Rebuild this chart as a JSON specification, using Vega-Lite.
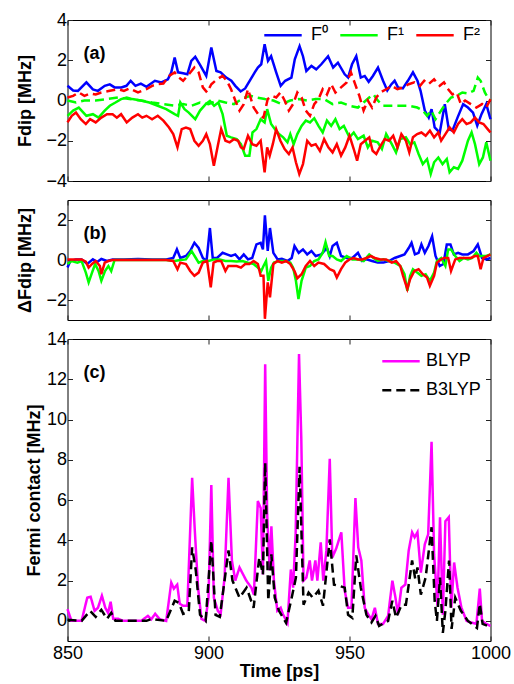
{
"$schema": "https://vega.github.io/schema/vega-lite/v6.json",
"padding": {"left": 15.5, "top": 10, "right": 0, "bottom": 0},
"spacing": 19,
"bounds": "flush",
"resolve": {"scale": {"color": "independent", "strokeDash": "independent"}, "legend": {"color": "independent", "strokeDash": "independent"}},
"config": {
  "font": "Liberation Sans",
  "view": {"stroke": "black", "strokeWidth": 1},
  "axis": {"grid": false, "domain": false, "tickSize": -5, "tickColor": "#222", "tickWidth": 1, "labelFontSize": 18, "labelColor": "black", "labelPadding": 6, "titleFontSize": 18, "titleFontWeight": "bold", "titleColor": "black", "minExtent": 0, "format": "d", "labelFlush": false, "labelOverlap": false},
  "legend": {"title": null, "symbolType": "stroke", "symbolStrokeWidth": 2.5, "symbolSize": 1400, "labelFontSize": 18, "labelColor": "black", "padding": 0, "labelOffset": 6},
  "text": {"fontSize": 18, "fontWeight": "bold", "color": "black", "align": "left", "baseline": "alphabetic", "dx": 16, "dy": 39},
  "line": {"strokeWidth": 2.5}
},
"datasets": {
"aS": [
{"t":850,"v":0.73,"s":"F⁰"},{"t":852,"v":0.5,"s":"F⁰"},{"t":853.7,"v":0.48,"s":"F⁰"},{"t":856.7,"v":0.9,"s":"F⁰"},{"t":859,"v":0.55,"s":"F⁰"},{"t":860.8,"v":0.48,"s":"F⁰"},{"t":863.2,"v":0.73,"s":"F⁰"},{"t":865,"v":0.8,"s":"F⁰"},{"t":866.7,"v":0.65,"s":"F⁰"},{"t":869.1,"v":0.65,"s":"F⁰"},{"t":870.9,"v":0.73,"s":"F⁰"},{"t":872.4,"v":0.98,"s":"F⁰"},{"t":874.1,"v":0.73,"s":"F⁰"},{"t":876,"v":0.84,"s":"F⁰"},{"t":878,"v":0.68,"s":"F⁰"},{"t":881,"v":0.98,"s":"F⁰"},{"t":883.3,"v":0.9,"s":"F⁰"},{"t":885.6,"v":1.05,"s":"F⁰"},{"t":886.8,"v":1.4,"s":"F⁰"},{"t":888,"v":2.13,"s":"F⁰"},{"t":889.2,"v":1.4,"s":"F⁰"},{"t":891,"v":1.35,"s":"F⁰"},{"t":892.5,"v":1.3,"s":"F⁰"},{"t":893.9,"v":1.97,"s":"F⁰"},{"t":895.3,"v":2.17,"s":"F⁰"},{"t":896.9,"v":1.8,"s":"F⁰"},{"t":899.2,"v":1.22,"s":"F⁰"},{"t":901,"v":2.63,"s":"F⁰"},{"t":902.8,"v":1.47,"s":"F⁰"},{"t":904.3,"v":1.4,"s":"F⁰"},{"t":906.3,"v":1.14,"s":"F⁰"},{"t":908.1,"v":0.98,"s":"F⁰"},{"t":909.5,"v":0.73,"s":"F⁰"},{"t":911.4,"v":0.45,"s":"F⁰"},{"t":913,"v":0.6,"s":"F⁰"},{"t":914.6,"v":0.98,"s":"F⁰"},{"t":916.4,"v":1.4,"s":"F⁰"},{"t":917.5,"v":1.64,"s":"F⁰"},{"t":918.7,"v":1.8,"s":"F⁰"},{"t":919.9,"v":2.8,"s":"F⁰"},{"t":921.1,"v":1.97,"s":"F⁰"},{"t":922.2,"v":2.2,"s":"F⁰"},{"t":924,"v":1.4,"s":"F⁰"},{"t":925.6,"v":0.73,"s":"F⁰"},{"t":927.2,"v":0.98,"s":"F⁰"},{"t":929.4,"v":1.14,"s":"F⁰"},{"t":930.6,"v":2.05,"s":"F⁰"},{"t":932.3,"v":2.7,"s":"F⁰"},{"t":933.5,"v":2.2,"s":"F⁰"},{"t":934.7,"v":1.47,"s":"F⁰"},{"t":936.5,"v":1.72,"s":"F⁰"},{"t":938.2,"v":1.55,"s":"F⁰"},{"t":940,"v":1.8,"s":"F⁰"},{"t":942.4,"v":2.2,"s":"F⁰"},{"t":944.2,"v":1.64,"s":"F⁰"},{"t":945.9,"v":1.88,"s":"F⁰"},{"t":948.3,"v":1.3,"s":"F⁰"},{"t":949.5,"v":1.14,"s":"F⁰"},{"t":950.9,"v":1.8,"s":"F⁰"},{"t":952.4,"v":2.2,"s":"F⁰"},{"t":954,"v":1.14,"s":"F⁰"},{"t":955.4,"v":1.22,"s":"F⁰"},{"t":956.8,"v":0.93,"s":"F⁰"},{"t":958.3,"v":1.22,"s":"F⁰"},{"t":960.1,"v":1.64,"s":"F⁰"},{"t":961.9,"v":0.98,"s":"F⁰"},{"t":963.4,"v":0.5,"s":"F⁰"},{"t":964.8,"v":0.8,"s":"F⁰"},{"t":966,"v":0.98,"s":"F⁰"},{"t":967.2,"v":0.65,"s":"F⁰"},{"t":968.9,"v":0.6,"s":"F⁰"},{"t":970.7,"v":0.98,"s":"F⁰"},{"t":972.5,"v":1.4,"s":"F⁰"},{"t":974.1,"v":0.98,"s":"F⁰"},{"t":975.2,"v":0.48,"s":"F⁰"},{"t":976.7,"v":-0.5,"s":"F⁰"},{"t":978.1,"v":-0.85,"s":"F⁰"},{"t":979.1,"v":-0.43,"s":"F⁰"},{"t":980.2,"v":-1.34,"s":"F⁰"},{"t":982,"v":-1.6,"s":"F⁰"},{"t":983.8,"v":-0.18,"s":"F⁰"},{"t":985.2,"v":-1.42,"s":"F⁰"},{"t":986.5,"v":-1.5,"s":"F⁰"},{"t":988.3,"v":-0.85,"s":"F⁰"},{"t":990.3,"v":-0.18,"s":"F⁰"},{"t":992,"v":-0.35,"s":"F⁰"},{"t":993.8,"v":-0.6,"s":"F⁰"},{"t":995.3,"v":-1.25,"s":"F⁰"},{"t":996.8,"v":-0.68,"s":"F⁰"},{"t":998.5,"v":-0.18,"s":"F⁰"},{"t":1000,"v":-0.93,"s":"F⁰"},
{"t":850,"v":-0.76,"s":"F¹"},{"t":852,"v":-0.5,"s":"F¹"},{"t":854,"v":-0.35,"s":"F¹"},{"t":856.7,"v":-0.76,"s":"F¹"},{"t":859,"v":-0.68,"s":"F¹"},{"t":861,"v":-0.85,"s":"F¹"},{"t":863.2,"v":-0.5,"s":"F¹"},{"t":865,"v":-0.26,"s":"F¹"},{"t":867,"v":-0.1,"s":"F¹"},{"t":869,"v":0.07,"s":"F¹"},{"t":871,"v":0.15,"s":"F¹"},{"t":873,"v":0.07,"s":"F¹"},{"t":876,"v":0,"s":"F¹"},{"t":879,"v":-0.1,"s":"F¹"},{"t":882,"v":-0.26,"s":"F¹"},{"t":885,"v":-0.43,"s":"F¹"},{"t":888,"v":-0.68,"s":"F¹"},{"t":889.2,"v":-0.76,"s":"F¹"},{"t":890,"v":-0.1,"s":"F¹"},{"t":891.5,"v":-0.43,"s":"F¹"},{"t":893,"v":-0.6,"s":"F¹"},{"t":895.3,"v":-0.93,"s":"F¹"},{"t":897,"v":-0.5,"s":"F¹"},{"t":899,"v":-0.18,"s":"F¹"},{"t":900.5,"v":-0.02,"s":"F¹"},{"t":902,"v":-0.26,"s":"F¹"},{"t":903.5,"v":-0.1,"s":"F¹"},{"t":905,"v":-0.68,"s":"F¹"},{"t":906.5,"v":-1.75,"s":"F¹"},{"t":908,"v":-1.83,"s":"F¹"},{"t":910,"v":-1.92,"s":"F¹"},{"t":911.5,"v":-2.17,"s":"F¹"},{"t":913,"v":-2.74,"s":"F¹"},{"t":914.5,"v":-2.74,"s":"F¹"},{"t":915.6,"v":-1.59,"s":"F¹"},{"t":917,"v":-1.42,"s":"F¹"},{"t":918.5,"v":-0.93,"s":"F¹"},{"t":919.9,"v":-1.09,"s":"F¹"},{"t":920.8,"v":-0.43,"s":"F¹"},{"t":922.2,"v":-1.17,"s":"F¹"},{"t":923.5,"v":-1.42,"s":"F¹"},{"t":925,"v":-1.67,"s":"F¹"},{"t":926.5,"v":-1.83,"s":"F¹"},{"t":928,"v":-2.08,"s":"F¹"},{"t":929,"v":-1.67,"s":"F¹"},{"t":930.2,"v":-2.17,"s":"F¹"},{"t":931.5,"v":-1.67,"s":"F¹"},{"t":933,"v":-1.26,"s":"F¹"},{"t":934.5,"v":-1.0,"s":"F¹"},{"t":936,"v":-1.09,"s":"F¹"},{"t":937.5,"v":-0.88,"s":"F¹"},{"t":939,"v":-1.26,"s":"F¹"},{"t":940.5,"v":-1.59,"s":"F¹"},{"t":942,"v":-1.0,"s":"F¹"},{"t":943.5,"v":-1.26,"s":"F¹"},{"t":945,"v":-0.93,"s":"F¹"},{"t":946.5,"v":-1.42,"s":"F¹"},{"t":948,"v":-1.26,"s":"F¹"},{"t":950,"v":-1.83,"s":"F¹"},{"t":951.5,"v":-1.59,"s":"F¹"},{"t":953,"v":-1.92,"s":"F¹"},{"t":955,"v":-1.75,"s":"F¹"},{"t":956.5,"v":-2.33,"s":"F¹"},{"t":958,"v":-2.0,"s":"F¹"},{"t":960,"v":-2.08,"s":"F¹"},{"t":961.5,"v":-2.41,"s":"F¹"},{"t":963,"v":-1.67,"s":"F¹"},{"t":965,"v":-2.17,"s":"F¹"},{"t":966.5,"v":-2.58,"s":"F¹"},{"t":968,"v":-1.92,"s":"F¹"},{"t":970,"v":-1.83,"s":"F¹"},{"t":971.5,"v":-2.17,"s":"F¹"},{"t":973,"v":-2.08,"s":"F¹"},{"t":974.5,"v":-2.66,"s":"F¹"},{"t":976,"v":-3.16,"s":"F¹"},{"t":977.5,"v":-2.91,"s":"F¹"},{"t":978.8,"v":-3.65,"s":"F¹"},{"t":980,"v":-3.07,"s":"F¹"},{"t":981.5,"v":-2.83,"s":"F¹"},{"t":983,"v":-3.16,"s":"F¹"},{"t":984.5,"v":-2.91,"s":"F¹"},{"t":985.5,"v":-3.57,"s":"F¹"},{"t":987,"v":-3.32,"s":"F¹"},{"t":988.5,"v":-3.4,"s":"F¹"},{"t":990,"v":-2.99,"s":"F¹"},{"t":992,"v":-2.0,"s":"F¹"},{"t":993.3,"v":-1.59,"s":"F¹"},{"t":994.5,"v":-2.17,"s":"F¹"},{"t":996,"v":-3.16,"s":"F¹"},{"t":997.3,"v":-2.83,"s":"F¹"},{"t":998.5,"v":-2.08,"s":"F¹"},{"t":1000,"v":-2.99,"s":"F¹"},
{"t":850,"v":-1.09,"s":"F²"},{"t":851.5,"v":-0.76,"s":"F²"},{"t":853,"v":-0.6,"s":"F²"},{"t":854.7,"v":-0.93,"s":"F²"},{"t":856.5,"v":-1.17,"s":"F²"},{"t":858,"v":-0.93,"s":"F²"},{"t":860,"v":-1.09,"s":"F²"},{"t":862,"v":-0.85,"s":"F²"},{"t":864,"v":-0.68,"s":"F²"},{"t":866,"v":-0.68,"s":"F²"},{"t":867.5,"v":-0.85,"s":"F²"},{"t":869,"v":-0.68,"s":"F²"},{"t":871,"v":-1.09,"s":"F²"},{"t":873,"v":-0.85,"s":"F²"},{"t":875,"v":-0.68,"s":"F²"},{"t":876.5,"v":-0.85,"s":"F²"},{"t":878,"v":-0.76,"s":"F²"},{"t":880,"v":-0.93,"s":"F²"},{"t":882,"v":-0.76,"s":"F²"},{"t":884,"v":-1.0,"s":"F²"},{"t":886,"v":-1.34,"s":"F²"},{"t":887.5,"v":-1.67,"s":"F²"},{"t":889,"v":-2.33,"s":"F²"},{"t":890.5,"v":-1.42,"s":"F²"},{"t":892,"v":-1.34,"s":"F²"},{"t":893.5,"v":-1.42,"s":"F²"},{"t":895,"v":-2.0,"s":"F²"},{"t":896.5,"v":-2.25,"s":"F²"},{"t":898,"v":-2.0,"s":"F²"},{"t":899.2,"v":-1.67,"s":"F²"},{"t":900.5,"v":-2.17,"s":"F²"},{"t":901.9,"v":-3.24,"s":"F²"},{"t":903.3,"v":-2.25,"s":"F²"},{"t":904.5,"v":-1.42,"s":"F²"},{"t":906,"v":-2.0,"s":"F²"},{"t":907.5,"v":-2.08,"s":"F²"},{"t":909,"v":-1.92,"s":"F²"},{"t":910.5,"v":-2.0,"s":"F²"},{"t":911.5,"v":-2.33,"s":"F²"},{"t":912.5,"v":-2.41,"s":"F²"},{"t":914,"v":-1.75,"s":"F²"},{"t":915.5,"v":-2.17,"s":"F²"},{"t":917,"v":-2.25,"s":"F²"},{"t":918.5,"v":-2.0,"s":"F²"},{"t":919.9,"v":-3.57,"s":"F²"},{"t":920.8,"v":-2.33,"s":"F²"},{"t":921.7,"v":-2.74,"s":"F²"},{"t":922.8,"v":-2.17,"s":"F²"},{"t":924,"v":-1.42,"s":"F²"},{"t":925.5,"v":-2.0,"s":"F²"},{"t":927,"v":-2.41,"s":"F²"},{"t":928.5,"v":-2.66,"s":"F²"},{"t":929.8,"v":-2.33,"s":"F²"},{"t":931,"v":-3.07,"s":"F²"},{"t":932.2,"v":-3.65,"s":"F²"},{"t":933.5,"v":-3.16,"s":"F²"},{"t":935,"v":-2.0,"s":"F²"},{"t":936.5,"v":-2.25,"s":"F²"},{"t":938,"v":-2.17,"s":"F²"},{"t":939.5,"v":-2.5,"s":"F²"},{"t":941,"v":-1.92,"s":"F²"},{"t":942.5,"v":-2.33,"s":"F²"},{"t":944,"v":-2.58,"s":"F²"},{"t":945.5,"v":-2.17,"s":"F²"},{"t":947,"v":-2.74,"s":"F²"},{"t":948.5,"v":-2.33,"s":"F²"},{"t":950,"v":-1.75,"s":"F²"},{"t":951.5,"v":-2.41,"s":"F²"},{"t":952.7,"v":-2.99,"s":"F²"},{"t":954,"v":-2.17,"s":"F²"},{"t":955.5,"v":-2.0,"s":"F²"},{"t":957,"v":-1.83,"s":"F²"},{"t":958.2,"v":-2.5,"s":"F²"},{"t":959.5,"v":-2.66,"s":"F²"},{"t":961,"v":-2.25,"s":"F²"},{"t":962.5,"v":-1.92,"s":"F²"},{"t":964,"v":-2.0,"s":"F²"},{"t":965.5,"v":-1.75,"s":"F²"},{"t":967,"v":-2.33,"s":"F²"},{"t":968.4,"v":-1.67,"s":"F²"},{"t":970,"v":-2.0,"s":"F²"},{"t":971.2,"v":-2.58,"s":"F²"},{"t":972.5,"v":-1.83,"s":"F²"},{"t":974,"v":-1.67,"s":"F²"},{"t":975.5,"v":-1.59,"s":"F²"},{"t":977,"v":-1.75,"s":"F²"},{"t":978.5,"v":-1.5,"s":"F²"},{"t":980,"v":-1.83,"s":"F²"},{"t":981.5,"v":-1.59,"s":"F²"},{"t":982.5,"v":-2.0,"s":"F²"},{"t":984,"v":-1.67,"s":"F²"},{"t":985.5,"v":-1.34,"s":"F²"},{"t":987,"v":-1.59,"s":"F²"},{"t":988.5,"v":-1.17,"s":"F²"},{"t":990,"v":-0.93,"s":"F²"},{"t":991.5,"v":-1.17,"s":"F²"},{"t":993,"v":-1.09,"s":"F²"},{"t":994.5,"v":-0.85,"s":"F²"},{"t":996,"v":-1.09,"s":"F²"},{"t":997.5,"v":-1.17,"s":"F²"},{"t":999,"v":-1.42,"s":"F²"},{"t":1000,"v":-1.59,"s":"F²"}
],
"aD": [
{"t":850,"v":0,"s":"F¹"},{"t":853,"v":-0.1,"s":"F¹"},{"t":856,"v":0,"s":"F¹"},{"t":860,"v":0,"s":"F¹"},{"t":864,"v":0.07,"s":"F¹"},{"t":868,"v":0.15,"s":"F¹"},{"t":872,"v":0.07,"s":"F¹"},{"t":876,"v":0,"s":"F¹"},{"t":880,"v":-0.1,"s":"F¹"},{"t":884,"v":-0.18,"s":"F¹"},{"t":888,"v":-0.26,"s":"F¹"},{"t":891,"v":-0.18,"s":"F¹"},{"t":894,"v":-0.26,"s":"F¹"},{"t":897,"v":-0.1,"s":"F¹"},{"t":900,"v":-0.18,"s":"F¹"},{"t":903,"v":0,"s":"F¹"},{"t":906,"v":-0.1,"s":"F¹"},{"t":909,"v":-0.18,"s":"F¹"},{"t":911,"v":0,"s":"F¹"},{"t":913,"v":0.15,"s":"F¹"},{"t":915,"v":0.23,"s":"F¹"},{"t":917,"v":0.15,"s":"F¹"},{"t":920,"v":0.07,"s":"F¹"},{"t":923,"v":0,"s":"F¹"},{"t":926,"v":-0.18,"s":"F¹"},{"t":929,"v":0,"s":"F¹"},{"t":932,"v":0.07,"s":"F¹"},{"t":935,"v":0,"s":"F¹"},{"t":938,"v":0.07,"s":"F¹"},{"t":941,"v":0.07,"s":"F¹"},{"t":944,"v":-0.18,"s":"F¹"},{"t":947,"v":-0.1,"s":"F¹"},{"t":950,"v":-0.26,"s":"F¹"},{"t":953,"v":-0.35,"s":"F¹"},{"t":955,"v":-0.1,"s":"F¹"},{"t":957,"v":0.15,"s":"F¹"},{"t":958.5,"v":0.3,"s":"F¹"},{"t":960,"v":0,"s":"F¹"},{"t":962,"v":-0.26,"s":"F¹"},{"t":965,"v":-0.26,"s":"F¹"},{"t":968,"v":-0.26,"s":"F¹"},{"t":971,"v":-0.26,"s":"F¹"},{"t":974,"v":-0.35,"s":"F¹"},{"t":976,"v":-0.5,"s":"F¹"},{"t":977.5,"v":-0.76,"s":"F¹"},{"t":979,"v":-0.5,"s":"F¹"},{"t":980.5,"v":-0.93,"s":"F¹"},{"t":982,"v":-0.6,"s":"F¹"},{"t":984,"v":-0.18,"s":"F¹"},{"t":986,"v":0.15,"s":"F¹"},{"t":988,"v":0.23,"s":"F¹"},{"t":990,"v":0.4,"s":"F¹"},{"t":992,"v":0.35,"s":"F¹"},{"t":994,"v":0.48,"s":"F¹"},{"t":995.5,"v":1.14,"s":"F¹"},{"t":996.5,"v":0.98,"s":"F¹"},{"t":998,"v":0.4,"s":"F¹"},{"t":999,"v":0.15,"s":"F¹"},{"t":1000,"v":0,"s":"F¹"},
{"t":850,"v":0.15,"s":"F²"},{"t":852,"v":0.23,"s":"F²"},{"t":854,"v":0.4,"s":"F²"},{"t":856,"v":0.23,"s":"F²"},{"t":858,"v":0.35,"s":"F²"},{"t":860,"v":0.3,"s":"F²"},{"t":862,"v":0.4,"s":"F²"},{"t":865,"v":0.48,"s":"F²"},{"t":868,"v":0.56,"s":"F²"},{"t":870,"v":0.48,"s":"F²"},{"t":872,"v":0.6,"s":"F²"},{"t":875,"v":0.4,"s":"F²"},{"t":878,"v":0.56,"s":"F²"},{"t":880,"v":0.73,"s":"F²"},{"t":882,"v":0.81,"s":"F²"},{"t":884,"v":0.84,"s":"F²"},{"t":886,"v":1.22,"s":"F²"},{"t":888,"v":1.4,"s":"F²"},{"t":889.5,"v":1.14,"s":"F²"},{"t":891,"v":0.98,"s":"F²"},{"t":893,"v":1.3,"s":"F²"},{"t":895,"v":1.64,"s":"F²"},{"t":896.5,"v":1.4,"s":"F²"},{"t":898,"v":0.65,"s":"F²"},{"t":899.5,"v":0.4,"s":"F²"},{"t":901,"v":0.81,"s":"F²"},{"t":903,"v":1.05,"s":"F²"},{"t":905,"v":1.22,"s":"F²"},{"t":906.5,"v":0.98,"s":"F²"},{"t":908,"v":0.56,"s":"F²"},{"t":909.5,"v":0,"s":"F²"},{"t":911,"v":-0.5,"s":"F²"},{"t":912.5,"v":-0.18,"s":"F²"},{"t":914,"v":0.56,"s":"F²"},{"t":916,"v":-0.35,"s":"F²"},{"t":918,"v":-0.76,"s":"F²"},{"t":919.5,"v":-0.85,"s":"F²"},{"t":921,"v":0.07,"s":"F²"},{"t":922.5,"v":0.23,"s":"F²"},{"t":924,"v":0.15,"s":"F²"},{"t":925.5,"v":0.4,"s":"F²"},{"t":927,"v":0,"s":"F²"},{"t":928.5,"v":-0.5,"s":"F²"},{"t":930,"v":-0.18,"s":"F²"},{"t":931.5,"v":0.4,"s":"F²"},{"t":933,"v":0.15,"s":"F²"},{"t":934.5,"v":-0.5,"s":"F²"},{"t":936,"v":-0.76,"s":"F²"},{"t":937.5,"v":-0.18,"s":"F²"},{"t":939,"v":0.07,"s":"F²"},{"t":940.5,"v":0.56,"s":"F²"},{"t":942,"v":0.3,"s":"F²"},{"t":943.5,"v":0.81,"s":"F²"},{"t":945,"v":0.4,"s":"F²"},{"t":947,"v":0.65,"s":"F²"},{"t":949,"v":0.9,"s":"F²"},{"t":950.5,"v":1.4,"s":"F²"},{"t":952,"v":0.81,"s":"F²"},{"t":953.5,"v":0.23,"s":"F²"},{"t":955,"v":-0.5,"s":"F²"},{"t":956.5,"v":0,"s":"F²"},{"t":958,"v":-0.35,"s":"F²"},{"t":959.5,"v":0.15,"s":"F²"},{"t":961,"v":0.4,"s":"F²"},{"t":963,"v":0.56,"s":"F²"},{"t":965,"v":0.73,"s":"F²"},{"t":967,"v":0.56,"s":"F²"},{"t":969,"v":0.65,"s":"F²"},{"t":971,"v":0.81,"s":"F²"},{"t":973,"v":0.9,"s":"F²"},{"t":975,"v":0.73,"s":"F²"},{"t":976.5,"v":0.98,"s":"F²"},{"t":978,"v":0.81,"s":"F²"},{"t":980,"v":1.05,"s":"F²"},{"t":982,"v":0.73,"s":"F²"},{"t":983.5,"v":0.9,"s":"F²"},{"t":985,"v":0.56,"s":"F²"},{"t":986.5,"v":0.3,"s":"F²"},{"t":988,"v":0.4,"s":"F²"},{"t":989.5,"v":-0.18,"s":"F²"},{"t":991,"v":0,"s":"F²"},{"t":993,"v":-0.18,"s":"F²"},{"t":995,"v":-0.35,"s":"F²"},{"t":997,"v":-0.18,"s":"F²"},{"t":998.5,"v":-0.35,"s":"F²"},{"t":1000,"v":0.07,"s":"F²"}
],
"b0": [
{"t":850,"v":-0.38,"s":"F⁰"},{"t":851,"v":-0.05,"s":"F⁰"},{"t":853,"v":0.03,"s":"F⁰"},{"t":855,"v":0.03,"s":"F⁰"},{"t":857,"v":-0.2,"s":"F⁰"},{"t":859,"v":0.03,"s":"F⁰"},{"t":860.5,"v":-0.1,"s":"F⁰"},{"t":862,"v":0.05,"s":"F⁰"},{"t":864,"v":-0.05,"s":"F⁰"},{"t":866,"v":0.03,"s":"F⁰"},{"t":870,"v":0.03,"s":"F⁰"},{"t":875,"v":0.05,"s":"F⁰"},{"t":880,"v":0.03,"s":"F⁰"},{"t":885,"v":0.03,"s":"F⁰"},{"t":887.5,"v":0.1,"s":"F⁰"},{"t":888.8,"v":0.53,"s":"F⁰"},{"t":890,"v":0.1,"s":"F⁰"},{"t":892,"v":0.2,"s":"F⁰"},{"t":893.5,"v":0.45,"s":"F⁰"},{"t":895,"v":0.86,"s":"F⁰"},{"t":896.5,"v":0.6,"s":"F⁰"},{"t":898,"v":0.1,"s":"F⁰"},{"t":899.3,"v":-0.05,"s":"F⁰"},{"t":900.5,"v":1.6,"s":"F⁰"},{"t":901.5,"v":0.1,"s":"F⁰"},{"t":903,"v":0.1,"s":"F⁰"},{"t":905,"v":0.36,"s":"F⁰"},{"t":906.5,"v":0.28,"s":"F⁰"},{"t":908,"v":0.2,"s":"F⁰"},{"t":909.5,"v":0.28,"s":"F⁰"},{"t":911,"v":0.03,"s":"F⁰"},{"t":912.5,"v":0.28,"s":"F⁰"},{"t":914,"v":0.03,"s":"F⁰"},{"t":915.5,"v":0.1,"s":"F⁰"},{"t":917,"v":0.78,"s":"F⁰"},{"t":918.5,"v":0.86,"s":"F⁰"},{"t":919.3,"v":0.53,"s":"F⁰"},{"t":920,"v":2.23,"s":"F⁰"},{"t":921,"v":0.45,"s":"F⁰"},{"t":921.8,"v":1.6,"s":"F⁰"},{"t":923,"v":0.36,"s":"F⁰"},{"t":924.5,"v":0.03,"s":"F⁰"},{"t":926,"v":0.06,"s":"F⁰"},{"t":928,"v":-0.05,"s":"F⁰"},{"t":929.5,"v":0.1,"s":"F⁰"},{"t":930.5,"v":0.7,"s":"F⁰"},{"t":932,"v":0.36,"s":"F⁰"},{"t":933.5,"v":0.53,"s":"F⁰"},{"t":935,"v":0.28,"s":"F⁰"},{"t":936.5,"v":0.45,"s":"F⁰"},{"t":938,"v":0.2,"s":"F⁰"},{"t":940,"v":0.28,"s":"F⁰"},{"t":942,"v":0.6,"s":"F⁰"},{"t":943,"v":0.2,"s":"F⁰"},{"t":944,"v":0.7,"s":"F⁰"},{"t":945.5,"v":0.86,"s":"F⁰"},{"t":947,"v":0.2,"s":"F⁰"},{"t":949,"v":0.1,"s":"F⁰"},{"t":951,"v":0.1,"s":"F⁰"},{"t":953,"v":0.36,"s":"F⁰"},{"t":954.5,"v":-0.05,"s":"F⁰"},{"t":956,"v":0.03,"s":"F⁰"},{"t":958,"v":-0.05,"s":"F⁰"},{"t":960,"v":-0.13,"s":"F⁰"},{"t":962,"v":-0.13,"s":"F⁰"},{"t":964,"v":-0.05,"s":"F⁰"},{"t":966,"v":0.1,"s":"F⁰"},{"t":968,"v":0.2,"s":"F⁰"},{"t":969.5,"v":0.28,"s":"F⁰"},{"t":971,"v":0.6,"s":"F⁰"},{"t":972,"v":0.86,"s":"F⁰"},{"t":973.2,"v":0.28,"s":"F⁰"},{"t":974.5,"v":0.36,"s":"F⁰"},{"t":975.5,"v":0.78,"s":"F⁰"},{"t":976.7,"v":0.36,"s":"F⁰"},{"t":978,"v":0.7,"s":"F⁰"},{"t":979.3,"v":1.19,"s":"F⁰"},{"t":980.5,"v":0.2,"s":"F⁰"},{"t":982,"v":-0.3,"s":"F⁰"},{"t":983.3,"v":-0.2,"s":"F⁰"},{"t":984.5,"v":0.78,"s":"F⁰"},{"t":985.8,"v":0.78,"s":"F⁰"},{"t":987,"v":0.28,"s":"F⁰"},{"t":988.5,"v":0.36,"s":"F⁰"},{"t":990,"v":0.28,"s":"F⁰"},{"t":992,"v":0.28,"s":"F⁰"},{"t":994,"v":0.45,"s":"F⁰"},{"t":995.5,"v":0.78,"s":"F⁰"},{"t":997,"v":0.1,"s":"F⁰"},{"t":998.5,"v":0.03,"s":"F⁰"},{"t":1000,"v":0.1,"s":"F⁰"}
],
"b12": [
{"t":850,"v":-0.2,"s":"F¹"},{"t":851.5,"v":-0.05,"s":"F¹"},{"t":853.5,"v":-0.13,"s":"F¹"},{"t":855,"v":-0.05,"s":"F¹"},{"t":856.5,"v":-0.63,"s":"F¹"},{"t":857.5,"v":-1.12,"s":"F¹"},{"t":858.7,"v":-0.63,"s":"F¹"},{"t":859.8,"v":-0.2,"s":"F¹"},{"t":861,"v":-0.55,"s":"F¹"},{"t":862,"v":-1.04,"s":"F¹"},{"t":863.3,"v":-0.55,"s":"F¹"},{"t":864.5,"v":-0.3,"s":"F¹"},{"t":865.5,"v":-0.55,"s":"F¹"},{"t":866.7,"v":0,"s":"F¹"},{"t":875,"v":0,"s":"F¹"},{"t":885,"v":0,"s":"F¹"},{"t":888,"v":-0.05,"s":"F¹"},{"t":890,"v":0,"s":"F¹"},{"t":892,"v":0.03,"s":"F¹"},{"t":894,"v":0.45,"s":"F¹"},{"t":895.5,"v":0.1,"s":"F¹"},{"t":896.5,"v":-0.13,"s":"F¹"},{"t":898,"v":-0.05,"s":"F¹"},{"t":900,"v":-0.05,"s":"F¹"},{"t":902,"v":0.03,"s":"F¹"},{"t":904,"v":0.03,"s":"F¹"},{"t":906,"v":-0.05,"s":"F¹"},{"t":908,"v":-0.05,"s":"F¹"},{"t":910,"v":-0.08,"s":"F¹"},{"t":912,"v":-0.05,"s":"F¹"},{"t":914,"v":-0.13,"s":"F¹"},{"t":916,"v":-0.2,"s":"F¹"},{"t":917.5,"v":-0.38,"s":"F¹"},{"t":918.7,"v":-0.55,"s":"F¹"},{"t":919.5,"v":-0.3,"s":"F¹"},{"t":920.4,"v":-0.05,"s":"F¹"},{"t":921.2,"v":-1.04,"s":"F¹"},{"t":922.2,"v":-0.38,"s":"F¹"},{"t":923.2,"v":-0.13,"s":"F¹"},{"t":925,"v":-0.05,"s":"F¹"},{"t":927,"v":-0.05,"s":"F¹"},{"t":929,"v":-0.13,"s":"F¹"},{"t":930,"v":-0.38,"s":"F¹"},{"t":931,"v":-1.04,"s":"F¹"},{"t":931.9,"v":-1.95,"s":"F¹"},{"t":933,"v":-1.04,"s":"F¹"},{"t":934.5,"v":-0.38,"s":"F¹"},{"t":936,"v":-0.3,"s":"F¹"},{"t":937.5,"v":-0.05,"s":"F¹"},{"t":939,"v":0.03,"s":"F¹"},{"t":940.5,"v":0.36,"s":"F¹"},{"t":941.5,"v":0.89,"s":"F¹"},{"t":942.8,"v":0.2,"s":"F¹"},{"t":944,"v":0.2,"s":"F¹"},{"t":945.5,"v":0.03,"s":"F¹"},{"t":947,"v":-0.05,"s":"F¹"},{"t":949,"v":0.2,"s":"F¹"},{"t":951,"v":0.03,"s":"F¹"},{"t":953,"v":0.03,"s":"F¹"},{"t":955,"v":-0.05,"s":"F¹"},{"t":957,"v":0.28,"s":"F¹"},{"t":958.5,"v":0.1,"s":"F¹"},{"t":960,"v":-0.05,"s":"F¹"},{"t":962,"v":0.03,"s":"F¹"},{"t":964,"v":-0.05,"s":"F¹"},{"t":966,"v":-0.13,"s":"F¹"},{"t":968,"v":-0.3,"s":"F¹"},{"t":969.5,"v":-0.71,"s":"F¹"},{"t":970.5,"v":-1.54,"s":"F¹"},{"t":971.5,"v":-0.79,"s":"F¹"},{"t":972.5,"v":-0.46,"s":"F¹"},{"t":974,"v":-0.63,"s":"F¹"},{"t":975.5,"v":-0.79,"s":"F¹"},{"t":977,"v":-0.71,"s":"F¹"},{"t":978.5,"v":-1.04,"s":"F¹"},{"t":980,"v":-0.63,"s":"F¹"},{"t":981,"v":-0.05,"s":"F¹"},{"t":982.5,"v":0.1,"s":"F¹"},{"t":984,"v":-0.3,"s":"F¹"},{"t":985,"v":0.53,"s":"F¹"},{"t":986,"v":0.53,"s":"F¹"},{"t":987.5,"v":0.2,"s":"F¹"},{"t":989,"v":-0.05,"s":"F¹"},{"t":990.5,"v":0.1,"s":"F¹"},{"t":992,"v":0.03,"s":"F¹"},{"t":993.5,"v":0.1,"s":"F¹"},{"t":995,"v":0.36,"s":"F¹"},{"t":996,"v":0.2,"s":"F¹"},{"t":997,"v":0.2,"s":"F¹"},{"t":998.5,"v":0.2,"s":"F¹"},{"t":1000,"v":0.28,"s":"F¹"},
{"t":850,"v":0.03,"s":"F²"},{"t":852,"v":0.03,"s":"F²"},{"t":855,"v":0.03,"s":"F²"},{"t":856.5,"v":-0.08,"s":"F²"},{"t":857.5,"v":-0.38,"s":"F²"},{"t":858.7,"v":-0.2,"s":"F²"},{"t":860,"v":-0.05,"s":"F²"},{"t":861.5,"v":-0.3,"s":"F²"},{"t":862,"v":-0.71,"s":"F²"},{"t":863.2,"v":-0.13,"s":"F²"},{"t":864.5,"v":-0.05,"s":"F²"},{"t":866,"v":0,"s":"F²"},{"t":875,"v":0,"s":"F²"},{"t":885,"v":0,"s":"F²"},{"t":887.5,"v":-0.05,"s":"F²"},{"t":889,"v":-0.46,"s":"F²"},{"t":890,"v":-0.13,"s":"F²"},{"t":892,"v":-0.2,"s":"F²"},{"t":893.5,"v":-0.55,"s":"F²"},{"t":895,"v":-0.79,"s":"F²"},{"t":896.5,"v":-0.63,"s":"F²"},{"t":898,"v":-0.13,"s":"F²"},{"t":899.5,"v":-0.05,"s":"F²"},{"t":900.8,"v":-1.37,"s":"F²"},{"t":901.8,"v":-0.13,"s":"F²"},{"t":903,"v":-0.05,"s":"F²"},{"t":904.5,"v":-0.05,"s":"F²"},{"t":906,"v":-0.55,"s":"F²"},{"t":907,"v":-0.3,"s":"F²"},{"t":908.5,"v":-0.3,"s":"F²"},{"t":910,"v":-0.3,"s":"F²"},{"t":911.5,"v":-0.38,"s":"F²"},{"t":913,"v":-0.2,"s":"F²"},{"t":914.5,"v":-0.2,"s":"F²"},{"t":916,"v":-0.05,"s":"F²"},{"t":917.5,"v":-0.2,"s":"F²"},{"t":918.5,"v":-0.79,"s":"F²"},{"t":919.5,"v":-0.79,"s":"F²"},{"t":920,"v":-2.94,"s":"F²"},{"t":921,"v":-1.12,"s":"F²"},{"t":921.8,"v":-1.87,"s":"F²"},{"t":923,"v":-0.2,"s":"F²"},{"t":924.5,"v":-0.05,"s":"F²"},{"t":926,"v":-0.13,"s":"F²"},{"t":927.5,"v":-0.05,"s":"F²"},{"t":929,"v":-0.2,"s":"F²"},{"t":930.5,"v":-0.55,"s":"F²"},{"t":931.5,"v":-0.91,"s":"F²"},{"t":933,"v":-0.71,"s":"F²"},{"t":934.5,"v":-0.3,"s":"F²"},{"t":936,"v":-0.05,"s":"F²"},{"t":937.5,"v":-0.3,"s":"F²"},{"t":939,"v":-0.13,"s":"F²"},{"t":941,"v":-0.2,"s":"F²"},{"t":943,"v":-0.46,"s":"F²"},{"t":944.5,"v":-0.55,"s":"F²"},{"t":945.5,"v":-0.88,"s":"F²"},{"t":947,"v":-0.46,"s":"F²"},{"t":948.5,"v":-0.13,"s":"F²"},{"t":950,"v":0.03,"s":"F²"},{"t":951.5,"v":0.1,"s":"F²"},{"t":953,"v":0.03,"s":"F²"},{"t":954.5,"v":0.03,"s":"F²"},{"t":956,"v":0.1,"s":"F²"},{"t":957.5,"v":0.2,"s":"F²"},{"t":959,"v":0.1,"s":"F²"},{"t":961,"v":0.03,"s":"F²"},{"t":963,"v":0.03,"s":"F²"},{"t":965,"v":-0.13,"s":"F²"},{"t":966.5,"v":-0.05,"s":"F²"},{"t":968,"v":-0.3,"s":"F²"},{"t":969,"v":-0.79,"s":"F²"},{"t":970.5,"v":-1.45,"s":"F²"},{"t":971.5,"v":-0.96,"s":"F²"},{"t":973,"v":-0.55,"s":"F²"},{"t":974.5,"v":-0.46,"s":"F²"},{"t":976,"v":-0.71,"s":"F²"},{"t":977.5,"v":-0.88,"s":"F²"},{"t":978.5,"v":-1.29,"s":"F²"},{"t":980,"v":-0.79,"s":"F²"},{"t":981,"v":-0.13,"s":"F²"},{"t":982.5,"v":0.03,"s":"F²"},{"t":983.5,"v":0.1,"s":"F²"},{"t":985,"v":0.1,"s":"F²"},{"t":986,"v":-0.55,"s":"F²"},{"t":987.5,"v":0.03,"s":"F²"},{"t":989,"v":0.1,"s":"F²"},{"t":991,"v":0.1,"s":"F²"},{"t":993,"v":0.1,"s":"F²"},{"t":994.5,"v":0.2,"s":"F²"},{"t":995.5,"v":0.2,"s":"F²"},{"t":996.5,"v":-0.46,"s":"F²"},{"t":997.5,"v":0.1,"s":"F²"},{"t":999,"v":0.2,"s":"F²"},{"t":1000,"v":0.28,"s":"F²"}
],
"cB": [
{"t":850,"v":0.58,"m":"BLYP"},{"t":851.4,"v":0,"m":"BLYP"},{"t":855,"v":0,"m":"BLYP"},{"t":857,"v":1.15,"m":"BLYP"},{"t":858.2,"v":1.2,"m":"BLYP"},{"t":859.6,"v":0.5,"m":"BLYP"},{"t":860.8,"v":0.65,"m":"BLYP"},{"t":862.2,"v":1.25,"m":"BLYP"},{"t":863.4,"v":0.65,"m":"BLYP"},{"t":864.4,"v":0.4,"m":"BLYP"},{"t":865.3,"v":0.95,"m":"BLYP"},{"t":866.2,"v":0.1,"m":"BLYP"},{"t":868,"v":0.1,"m":"BLYP"},{"t":869.7,"v":0,"m":"BLYP"},{"t":872.6,"v":0,"m":"BLYP"},{"t":876.2,"v":0,"m":"BLYP"},{"t":878.5,"v":0.25,"m":"BLYP"},{"t":879.7,"v":0.08,"m":"BLYP"},{"t":881.1,"v":0.35,"m":"BLYP"},{"t":882.7,"v":0.08,"m":"BLYP"},{"t":885,"v":0,"m":"BLYP"},{"t":886.8,"v":1.9,"m":"BLYP"},{"t":887.7,"v":1.6,"m":"BLYP"},{"t":888.9,"v":1.8,"m":"BLYP"},{"t":889.8,"v":0.85,"m":"BLYP"},{"t":891,"v":0.75,"m":"BLYP"},{"t":892.5,"v":0.75,"m":"BLYP"},{"t":894.2,"v":7.1,"m":"BLYP"},{"t":895.1,"v":4.6,"m":"BLYP"},{"t":896.3,"v":1.65,"m":"BLYP"},{"t":897.5,"v":0.1,"m":"BLYP"},{"t":898.9,"v":0,"m":"BLYP"},{"t":900,"v":1.15,"m":"BLYP"},{"t":901,"v":6.75,"m":"BLYP"},{"t":901.9,"v":1.15,"m":"BLYP"},{"t":903.3,"v":0.5,"m":"BLYP"},{"t":904.3,"v":0.33,"m":"BLYP"},{"t":905.7,"v":2.15,"m":"BLYP"},{"t":907.1,"v":7.1,"m":"BLYP"},{"t":908.3,"v":3.0,"m":"BLYP"},{"t":909.5,"v":2.0,"m":"BLYP"},{"t":911,"v":2.65,"m":"BLYP"},{"t":913.4,"v":2.0,"m":"BLYP"},{"t":915.2,"v":1.65,"m":"BLYP"},{"t":916.1,"v":1.3,"m":"BLYP"},{"t":917.5,"v":5.95,"m":"BLYP"},{"t":918.5,"v":5.6,"m":"BLYP"},{"t":919.3,"v":2.3,"m":"BLYP"},{"t":920.1,"v":12.75,"m":"BLYP"},{"t":920.8,"v":5.3,"m":"BLYP"},{"t":921.7,"v":2.5,"m":"BLYP"},{"t":922.3,"v":4.7,"m":"BLYP"},{"t":923.2,"v":2.0,"m":"BLYP"},{"t":924.4,"v":0.5,"m":"BLYP"},{"t":925.6,"v":0.65,"m":"BLYP"},{"t":926.4,"v":0.33,"m":"BLYP"},{"t":928,"v":-0.1,"m":"BLYP"},{"t":929.2,"v":2.55,"m":"BLYP"},{"t":930,"v":1.65,"m":"BLYP"},{"t":930.9,"v":4.3,"m":"BLYP"},{"t":932.1,"v":13.25,"m":"BLYP"},{"t":932.9,"v":9.1,"m":"BLYP"},{"t":933.7,"v":2.0,"m":"BLYP"},{"t":934.7,"v":2.15,"m":"BLYP"},{"t":935.9,"v":3.0,"m":"BLYP"},{"t":936.7,"v":2.0,"m":"BLYP"},{"t":937.9,"v":3.0,"m":"BLYP"},{"t":938.6,"v":2.0,"m":"BLYP"},{"t":939.8,"v":3.9,"m":"BLYP"},{"t":940.7,"v":2.0,"m":"BLYP"},{"t":941.8,"v":3.5,"m":"BLYP"},{"t":943,"v":8.05,"m":"BLYP"},{"t":943.9,"v":3.15,"m":"BLYP"},{"t":945.3,"v":3.6,"m":"BLYP"},{"t":947.1,"v":4.4,"m":"BLYP"},{"t":948.3,"v":1.5,"m":"BLYP"},{"t":949.5,"v":0.65,"m":"BLYP"},{"t":950.7,"v":0.65,"m":"BLYP"},{"t":952.1,"v":6.1,"m":"BLYP"},{"t":953.1,"v":3.65,"m":"BLYP"},{"t":954.2,"v":3.0,"m":"BLYP"},{"t":955.4,"v":0.65,"m":"BLYP"},{"t":956.6,"v":0.33,"m":"BLYP"},{"t":957.8,"v":0.08,"m":"BLYP"},{"t":959,"v":0.65,"m":"BLYP"},{"t":960.1,"v":-0.15,"m":"BLYP"},{"t":961.9,"v":-0.15,"m":"BLYP"},{"t":963.7,"v":0.25,"m":"BLYP"},{"t":965.2,"v":2.0,"m":"BLYP"},{"t":966.3,"v":1.15,"m":"BLYP"},{"t":967.2,"v":0.33,"m":"BLYP"},{"t":968.4,"v":1.65,"m":"BLYP"},{"t":969.8,"v":1.8,"m":"BLYP"},{"t":971,"v":3.5,"m":"BLYP"},{"t":972.2,"v":4.4,"m":"BLYP"},{"t":973.1,"v":4.15,"m":"BLYP"},{"t":974.1,"v":4.4,"m":"BLYP"},{"t":975.3,"v":2.4,"m":"BLYP"},{"t":976.7,"v":3.8,"m":"BLYP"},{"t":977.9,"v":4.3,"m":"BLYP"},{"t":979.1,"v":8.9,"m":"BLYP"},{"t":980,"v":3.3,"m":"BLYP"},{"t":981.2,"v":0.75,"m":"BLYP"},{"t":982.1,"v":5.15,"m":"BLYP"},{"t":983.1,"v":0.3,"m":"BLYP"},{"t":984,"v":4.95,"m":"BLYP"},{"t":985.2,"v":5.15,"m":"BLYP"},{"t":986.1,"v":0.65,"m":"BLYP"},{"t":987.1,"v":2.9,"m":"BLYP"},{"t":988.3,"v":1.65,"m":"BLYP"},{"t":989.7,"v":0.65,"m":"BLYP"},{"t":991.5,"v":0,"m":"BLYP"},{"t":993.2,"v":-0.08,"m":"BLYP"},{"t":995,"v":-0.15,"m":"BLYP"},{"t":996.2,"v":1.6,"m":"BLYP"},{"t":997,"v":0,"m":"BLYP"},{"t":998.5,"v":-0.15,"m":"BLYP"},{"t":1000,"v":-0.25,"m":"BLYP"}
],
"cD": [
{"t":850,"v":0.05,"m":"B3LYP"},{"t":855,"v":0,"m":"B3LYP"},{"t":858,"v":0.5,"m":"B3LYP"},{"t":860,"v":0.2,"m":"B3LYP"},{"t":862,"v":0.55,"m":"B3LYP"},{"t":864,"v":0.1,"m":"B3LYP"},{"t":865.5,"v":0.4,"m":"B3LYP"},{"t":867,"v":0,"m":"B3LYP"},{"t":878,"v":0,"m":"B3LYP"},{"t":880,"v":0.1,"m":"B3LYP"},{"t":882,"v":0.05,"m":"B3LYP"},{"t":885,"v":0,"m":"B3LYP"},{"t":888,"v":1.0,"m":"B3LYP"},{"t":889.5,"v":0.9,"m":"B3LYP"},{"t":891,"v":0.35,"m":"B3LYP"},{"t":893,"v":0.45,"m":"B3LYP"},{"t":894.2,"v":3.65,"m":"B3LYP"},{"t":895.5,"v":2.5,"m":"B3LYP"},{"t":897,"v":0.3,"m":"B3LYP"},{"t":899,"v":0,"m":"B3LYP"},{"t":901,"v":4.0,"m":"B3LYP"},{"t":902.5,"v":0.3,"m":"B3LYP"},{"t":904,"v":0.2,"m":"B3LYP"},{"t":907.1,"v":3.5,"m":"B3LYP"},{"t":908.5,"v":2.0,"m":"B3LYP"},{"t":911,"v":1.15,"m":"B3LYP"},{"t":913.5,"v":1.65,"m":"B3LYP"},{"t":916,"v":0.65,"m":"B3LYP"},{"t":918,"v":3.15,"m":"B3LYP"},{"t":919.3,"v":2.3,"m":"B3LYP"},{"t":920.1,"v":7.85,"m":"B3LYP"},{"t":921.2,"v":1.0,"m":"B3LYP"},{"t":922.3,"v":3.3,"m":"B3LYP"},{"t":923.5,"v":1.15,"m":"B3LYP"},{"t":925,"v":0.5,"m":"B3LYP"},{"t":927.5,"v":-0.1,"m":"B3LYP"},{"t":929.5,"v":1.15,"m":"B3LYP"},{"t":931,"v":2.15,"m":"B3LYP"},{"t":932.3,"v":7.65,"m":"B3LYP"},{"t":933.7,"v":0.8,"m":"B3LYP"},{"t":935.5,"v":1.4,"m":"B3LYP"},{"t":937,"v":1.15,"m":"B3LYP"},{"t":939,"v":1.5,"m":"B3LYP"},{"t":940.6,"v":0.75,"m":"B3LYP"},{"t":943,"v":4.05,"m":"B3LYP"},{"t":944.5,"v":1.8,"m":"B3LYP"},{"t":946,"v":1.75,"m":"B3LYP"},{"t":948.3,"v":1.65,"m":"B3LYP"},{"t":949.5,"v":0.3,"m":"B3LYP"},{"t":951,"v":0.15,"m":"B3LYP"},{"t":952.4,"v":3.25,"m":"B3LYP"},{"t":954,"v":1.65,"m":"B3LYP"},{"t":956,"v":0.3,"m":"B3LYP"},{"t":957.8,"v":-0.08,"m":"B3LYP"},{"t":959.2,"v":0.25,"m":"B3LYP"},{"t":960.5,"v":-0.25,"m":"B3LYP"},{"t":963.7,"v":0,"m":"B3LYP"},{"t":965.2,"v":1.0,"m":"B3LYP"},{"t":966.5,"v":0.15,"m":"B3LYP"},{"t":968.5,"v":0.8,"m":"B3LYP"},{"t":970,"v":0.8,"m":"B3LYP"},{"t":972.2,"v":3.0,"m":"B3LYP"},{"t":973.3,"v":2.1,"m":"B3LYP"},{"t":974.1,"v":2.65,"m":"B3LYP"},{"t":975.3,"v":1.3,"m":"B3LYP"},{"t":977,"v":2.15,"m":"B3LYP"},{"t":979.1,"v":4.65,"m":"B3LYP"},{"t":980.2,"v":1.0,"m":"B3LYP"},{"t":981,"v":0,"m":"B3LYP"},{"t":982.1,"v":2.15,"m":"B3LYP"},{"t":983.1,"v":-0.6,"m":"B3LYP"},{"t":984,"v":0.5,"m":"B3LYP"},{"t":985.3,"v":3.0,"m":"B3LYP"},{"t":986.2,"v":-0.4,"m":"B3LYP"},{"t":987.5,"v":1.15,"m":"B3LYP"},{"t":989.5,"v":0.5,"m":"B3LYP"},{"t":992,"v":0,"m":"B3LYP"},{"t":995.2,"v":-0.35,"m":"B3LYP"},{"t":996.2,"v":0.85,"m":"B3LYP"},{"t":997.2,"v":-0.15,"m":"B3LYP"},{"t":1000,"v":-0.3,"m":"B3LYP"}
]
},
"vconcat": [
{
  "width": 423, "height": 161,
  "layer": [
    {"data": {"name": "aS"}, "mark": {"type": "line"},
     "encoding": {
       "x": {"field": "t", "type": "quantitative", "scale": {"domain": [850, 1000], "nice": false, "zero": false}, "axis": {"orient": "bottom", "values": [850, 900, 950, 1000], "labels": false, "title": null}},
       "y": {"field": "v", "type": "quantitative", "scale": {"domain": [-4, 4], "nice": false, "zero": false}, "axis": {"orient": "left", "values": [-4, -2, 0, 2, 4], "title": "Fdip [MHz]", "titlePadding": 11}},
       "color": {"field": "s", "type": "nominal", "scale": {"domain": ["F⁰", "F¹", "F²"], "range": ["#0000ff", "#00ff00", "#ff0000"]}, "legend": {"orient": "none", "direction": "horizontal", "legendX": 195.5, "legendY": -4.7, "columnPadding": 7, "labelOffset": 8}}
     }},
    {"data": {"name": "aD"}, "mark": {"type": "line", "strokeDash": [9, 5]},
     "encoding": {
       "x": {"field": "t", "type": "quantitative", "scale": {"domain": [850, 1000], "nice": false, "zero": false}, "axis": {"orient": "top", "values": [850, 900, 950, 1000], "labels": false, "title": null}},
       "y": {"field": "v", "type": "quantitative", "scale": {"domain": [-4, 4], "nice": false, "zero": false}, "axis": {"orient": "right", "values": [-4, -2, 0, 2, 4], "labels": false, "title": null}},
       "color": {"field": "s", "type": "nominal", "scale": {"domain": ["F⁰", "F¹", "F²"], "range": ["#0000ff", "#00ff00", "#ff0000"]}, "legend": null}
     }},
    {"data": {"values": [{"label": "(a)"}]}, "mark": {"type": "text"},
     "encoding": {
       "text": {"field": "label"},
       "x": {"datum": 850, "type": "quantitative", "axis": null},
       "y": {"datum": 4, "type": "quantitative", "axis": null}
     }}
  ],
  "resolve": {"axis": {"x": "independent", "y": "independent"}}
},
{
  "width": 423, "height": 120,
  "layer": [
    {"data": {"name": "b0"}, "mark": {"type": "line"},
     "encoding": {
       "x": {"field": "t", "type": "quantitative", "scale": {"domain": [850, 1000], "nice": false, "zero": false}, "axis": {"orient": "bottom", "values": [850, 900, 950, 1000], "labels": false, "title": null}},
       "y": {"field": "v", "type": "quantitative", "scale": {"domain": [-3, 3], "nice": false, "zero": false}, "axis": {"orient": "left", "values": [-2, 0, 2], "title": "ΔFdip [MHz]", "titlePadding": 11}},
       "color": {"field": "s", "type": "nominal", "scale": {"domain": ["F⁰", "F¹", "F²"], "range": ["#0000ff", "#00ff00", "#ff0000"]}, "legend": null}
     }},
    {"data": {"name": "b12"}, "mark": {"type": "line"},
     "encoding": {
       "x": {"field": "t", "type": "quantitative", "scale": {"domain": [850, 1000], "nice": false, "zero": false}, "axis": {"orient": "top", "values": [850, 900, 950, 1000], "labels": false, "title": null}},
       "y": {"field": "v", "type": "quantitative", "scale": {"domain": [-3, 3], "nice": false, "zero": false}, "axis": {"orient": "right", "values": [-2, 0, 2], "labels": false, "title": null}},
       "color": {"field": "s", "type": "nominal", "scale": {"domain": ["F⁰", "F¹", "F²"], "range": ["#0000ff", "#00ff00", "#ff0000"]}, "legend": null}
     }},
    {"data": {"values": [{"label": "(b)"}]}, "mark": {"type": "text"},
     "encoding": {
       "text": {"field": "label"},
       "x": {"datum": 850, "type": "quantitative", "axis": null},
       "y": {"datum": 3, "type": "quantitative", "axis": null}
     }}
  ],
  "resolve": {"axis": {"x": "independent", "y": "independent"}}
},
{
  "width": 423, "height": 302,
  "layer": [
    {"data": {"name": "cB"}, "mark": {"type": "line"},
     "encoding": {
       "x": {"field": "t", "type": "quantitative", "scale": {"domain": [850, 1000], "nice": false, "zero": false}, "axis": {"orient": "bottom", "values": [850, 900, 950, 1000], "title": "Time [ps]", "labelPadding": 8, "titlePadding": 0}},
       "y": {"field": "v", "type": "quantitative", "scale": {"domain": [-1, 14], "nice": false, "zero": false}, "axis": {"orient": "left", "values": [0, 2, 4, 6, 8, 10, 12, 14], "title": "Fermi contact [MHz]", "titlePadding": 2.5}},
       "color": {"field": "m", "type": "nominal", "scale": {"domain": ["BLYP", "B3LYP"], "range": ["#ff00ff", "#000000"]}, "legend": {"orient": "none", "legendX": 313.5, "legendY": 2.3, "rowPadding": -13.4, "labelOffset": 5}},
       "strokeDash": {"field": "m", "type": "nominal", "scale": {"domain": ["BLYP", "B3LYP"], "range": [[1, 0], [9, 5]]}, "legend": {"orient": "none", "legendX": 313.5, "legendY": 2.3, "rowPadding": -13.4, "labelOffset": 5}}
     }},
    {"data": {"name": "cD"}, "mark": {"type": "line"},
     "encoding": {
       "x": {"field": "t", "type": "quantitative", "scale": {"domain": [850, 1000], "nice": false, "zero": false}, "axis": {"orient": "top", "values": [850, 900, 950, 1000], "labels": false, "title": null}},
       "y": {"field": "v", "type": "quantitative", "scale": {"domain": [-1, 14], "nice": false, "zero": false}, "axis": {"orient": "right", "values": [0, 2, 4, 6, 8, 10, 12, 14], "labels": false, "title": null}},
       "color": {"field": "m", "type": "nominal", "scale": {"domain": ["BLYP", "B3LYP"], "range": ["#ff00ff", "#000000"]}, "legend": null},
       "strokeDash": {"field": "m", "type": "nominal", "scale": {"domain": ["BLYP", "B3LYP"], "range": [[1, 0], [9, 5]]}, "legend": null}
     }},
    {"data": {"values": [{"label": "(c)"}]}, "mark": {"type": "text"},
     "encoding": {
       "text": {"field": "label"},
       "x": {"datum": 850, "type": "quantitative", "axis": null},
       "y": {"datum": 14, "type": "quantitative", "axis": null}
     }}
  ],
  "resolve": {"axis": {"x": "independent", "y": "independent"}}
}
]
}
